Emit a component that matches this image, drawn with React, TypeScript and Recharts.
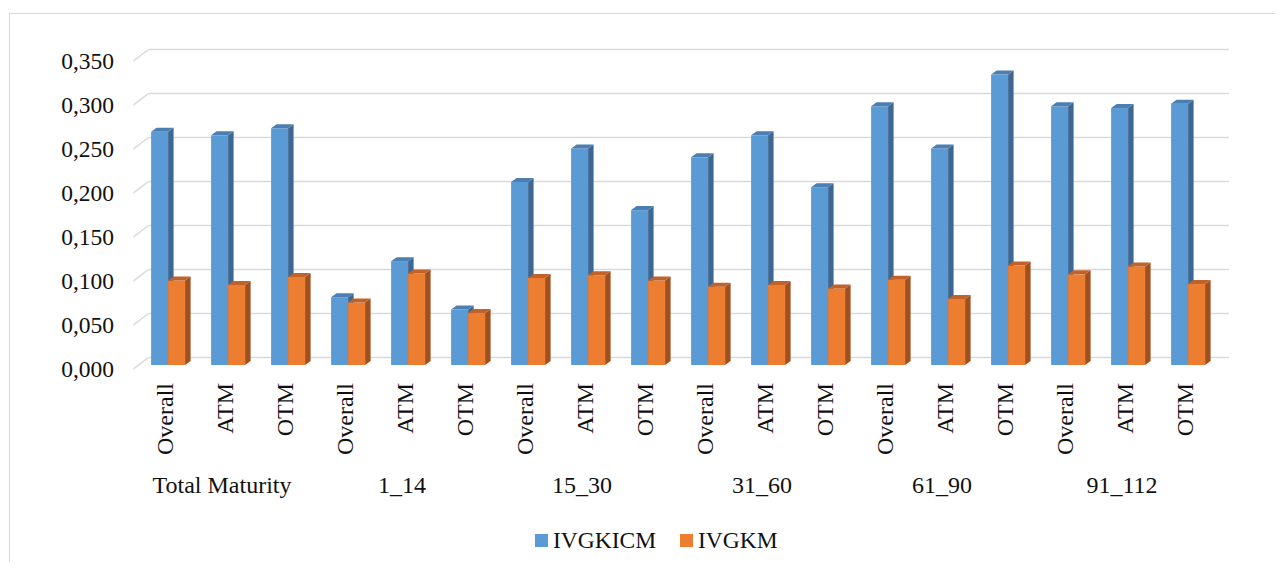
import { BarChart, Bar, XAxis, YAxis, CartesianGrid, Legend } from "recharts";

const groups = ["Total Maturity", "1_14", "15_30", "31_60", "61_90", "91_112"];
const moneyness = ["Overall", "ATM", "OTM"];

// values, in group order (Overall, ATM, OTM)
const ivgkicm = [
  0.265, 0.261, 0.269, 0.077, 0.118, 0.063, 0.208, 0.246, 0.176, 0.236, 0.261,
  0.202, 0.294, 0.246, 0.33, 0.294, 0.292, 0.297,
];
const ivgkm = [
  0.096, 0.091, 0.1, 0.071, 0.104, 0.059, 0.099, 0.102, 0.096, 0.089, 0.091,
  0.087, 0.097, 0.075, 0.113, 0.103, 0.112, 0.092,
];
const yTicks = [0, 0.05, 0.1, 0.15, 0.2, 0.25, 0.3, 0.35];

const data = groups.flatMap((g, gi) =>
  moneyness.map((m, mi) => {
    const i = gi * 3 + mi;
    return { id: `${g} ${m}`, group: g, label: m, sub: mi, IVGKICM: ivgkicm[i], IVGKM: ivgkm[i] };
  })
);

const FONT = '"Liberation Serif", "Times New Roman", serif';
const TEXT = "#111";
const GRID = "#D9D9D9";

const BLUE = { front: "#5B9BD5", side: "#3D6893", top: "#4B7EB2" };
const ORANGE = { front: "#ED7D31", side: "#9E5020", top: "#C0622A" };

const DX = 5.5;
const DY = 4;

function Bar3D(props: any) {
  const { x, y, width, height, colors } = props;
  if (!height || height <= 0) return null;
  const r = x + width;
  const b = y + height;
  return (
    <g>
      <rect x={x} y={y} width={width} height={height} fill={colors.front} />
      <polygon
        points={`${r},${y} ${r + DX},${y - DY} ${r + DX},${b - DY} ${r},${b}`}
        fill={colors.side}
      />
      <polygon
        points={`${x},${y} ${x + DX},${y - DY} ${r + DX},${y - DY} ${r},${y}`}
        fill={colors.top}
      />
    </g>
  );
}

function GridLine(props: any) {
  const { x1, x2, y1, index } = props;
  const by = y1 - 7.5;
  return (
    <g key={`grid-${index}`}>
      <line x1={x1 - 5} y1={y1 + 3.9} x2={x1 + 10} y2={by} stroke={GRID} strokeWidth={1.5} />
      <line x1={x1 + 10} y1={by} x2={x2 + 10.5} y2={by} stroke={GRID} strokeWidth={1.5} />
    </g>
  );
}

function ValueTick(props: any) {
  const { x, y, payload } = props;
  return (
    <text x={x} y={y + 4} dy="0.355em" textAnchor="end" fontFamily={FONT} fontSize={23.5} fill={TEXT}>
      {Number(payload.value).toFixed(3).replace(".", ",")}
    </text>
  );
}

function CategoryTick(props: any) {
  const { x, y, payload, index } = props;
  const row = data[payload?.index ?? index];
  if (!row) return null;
  return (
    <g>
      <text
        transform={`translate(${x + 4.5},${y + 18}) rotate(-90)`}
        textAnchor="end"
        fontFamily={FONT}
        fontSize={24}
        fill={TEXT}
      >
        {row.label}
      </text>
      {row.sub === 1 && (
        <text x={x - 6.5} y={y + 128} textAnchor="middle" fontFamily={FONT} fontSize={24} fill={TEXT}>
          {row.group}
        </text>
      )}
    </g>
  );
}

function LegendContent() {
  const items = [
    { name: "IVGKICM", color: BLUE.front, left: 527 },
    { name: "IVGKM", color: ORANGE.front, left: 672 },
  ];
  return (
    <div style={{ position: "relative", height: 0 }}>
      {items.map((it) => (
        <div key={it.name} style={{ position: "absolute", left: it.left, top: 519, display: "flex", alignItems: "center", whiteSpace: "nowrap" }}>
          <span style={{ display: "inline-block", width: 13, height: 13, background: it.color, marginRight: 5 }} />
          <span style={{ fontFamily: FONT, fontSize: 23.5, color: TEXT, lineHeight: "26px" }}>{it.name}</span>
        </div>
      ))}
    </div>
  );
}

export default function App() {
  return (
    <div style={{ position: "relative", width: 1275, height: 554, overflow: "hidden" }}>
      <div
        style={{
          position: "absolute",
          left: 1.3,
          top: 4.7,
          width: 1300,
          height: 700,
          border: `1.5px solid ${GRID}`,
          boxSizing: "border-box",
        }}
      />
      <div style={{ position: "absolute", left: 0, top: 0 }}>
        <BarChart
          width={1275}
          height={554}
          data={data}
          margin={{ top: 49, right: 64.5, left: 0, bottom: 17 }}
          barCategoryGap="21%"
          barGap={0}
        >
          <CartesianGrid vertical={false} horizontal={(p: any) => <GridLine {...p} />} />
          <XAxis
            dataKey="id"
            interval={0}
            height={180}
            axisLine={false}
            tickLine={false}
            tickSize={0}
            tickMargin={0}
            tick={(p: any) => <CategoryTick {...p} />}
          />
          <YAxis
            domain={[0, 0.35]}
            ticks={yTicks}
            width={130.5}
            axisLine={false}
            tickLine={false}
            tickSize={0}
            tickMargin={24.5}
            tick={(p: any) => <ValueTick {...p} />}
          />
          <Legend
            content={() => <LegendContent />}
            wrapperStyle={{ left: 0, top: 0, width: 1275, height: 0 }}
          />
          <Bar
            dataKey="IVGKICM"
            fill={BLUE.front}
            isAnimationActive={false}
            shape={(p: any) => <Bar3D {...p} colors={BLUE} />}
          />
          <Bar
            dataKey="IVGKM"
            fill={ORANGE.front}
            isAnimationActive={false}
            shape={(p: any) => <Bar3D {...p} colors={ORANGE} />}
          />
        </BarChart>
      </div>
    </div>
  );
}
